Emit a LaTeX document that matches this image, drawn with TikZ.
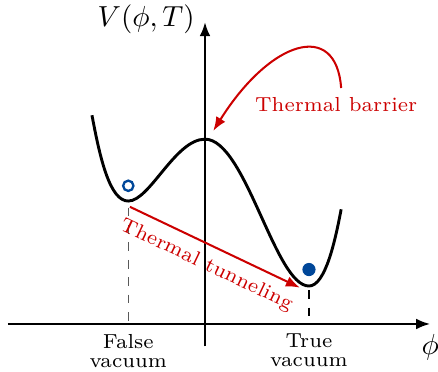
\documentclass[tikz,border=0pt]{standalone}
\usepackage{xcolor}
\usepackage{tikz}
\usetikzlibrary{arrows.meta}
\definecolor{barred}{RGB}{204,0,0}
\definecolor{vacblue}{RGB}{0,71,153}

\begin{document}
\begin{tikzpicture}[
    font=\normalsize,
    axis/.style={-{Latex[length=1.7mm, width=1.3mm]}, line width=0.8pt},
    potential/.style={line width=1pt},
    guide/.style={dashed, line width=0.5pt},
    redarr/.style={-{Latex[length=1.7mm, width=1.3mm]}, line width=0.7pt, draw=barred},
    redlab/.style={font=\scriptsize, text=barred},
    vaclab/.style={font=\scriptsize, align=center, below}
]
\useasboundingbox (-2.485, -0.570) rectangle (2.824, 3.927);

\coordinate (xstart) at (-2.39, 0);
\coordinate (xend)   at ( 2.73, 0);
\coordinate (ystart) at (0, -0.27);
\coordinate (yend)   at (0,  3.66);

\draw[axis] (xstart) -- (xend);
\draw[axis] (ystart) -- (yend);
\node[left]  (vlabel)   at (0, 3.69) {$V(\phi,T)$};
\node[below] (philabel) at (xend)    {$\phi$};

\coordinate (falsemin) at (-0.93, 1.49);
\coordinate (barrier)  at ( 0.00, 2.24);
\coordinate (truemin)  at ( 1.26, 0.46);

\draw[potential] (-1.37, 2.53) .. controls (-1.27, 1.99) and (-1.15, 1.49) .. (falsemin)
    .. controls (-0.67, 1.49) and (-0.36, 2.24) .. (barrier)
    .. controls ( 0.49, 2.24) and ( 0.85, 0.46) .. (truemin)
    .. controls ( 1.46, 0.46) and ( 1.58, 1.02) .. (1.65, 1.39);

\node[circle, draw=vacblue, line width=0.8pt, inner sep=0pt, minimum size=0.125cm] (falseball) at (-0.93, 1.675) {};
\node[circle, fill=vacblue, inner sep=0pt, minimum size=0.16cm] (trueball) at (1.26, 0.66) {};

\coordinate (falsetop)  at (-0.93, 1.41);
\coordinate (falsefoot) at (-0.93, 0);
\coordinate (truetop)   at ( 1.26, 0.41);
\coordinate (truefoot)  at ( 1.26, 0);

\draw[guide, black!65] (falsetop) -- (falsefoot);
\draw[guide] (truetop) -- (truefoot);

\node[vaclab] (falselab) at (falsefoot) {False\\[-1.5pt]vacuum};
\node[vaclab] (truelab)  at (truefoot)  {True\\[-1.5pt]vacuum};

\coordinate (tunstart) at (-0.91, 1.42);
\coordinate (tunend)   at ( 1.15, 0.44);
\draw[redarr] (tunstart) -- node[redlab, sloped, below] (tunlab) {Thermal tunneling} (tunend);

\coordinate (barstart) at (1.65, 2.86);
\coordinate (barend)   at (0.10, 2.34);
\draw[redarr] (barstart) .. controls (1.59, 3.69) and (0.79, 3.44) .. (barend);
\node[redlab] (barlab) at (1.59, 2.655) {Thermal barrier};

\end{tikzpicture}
\end{document}
